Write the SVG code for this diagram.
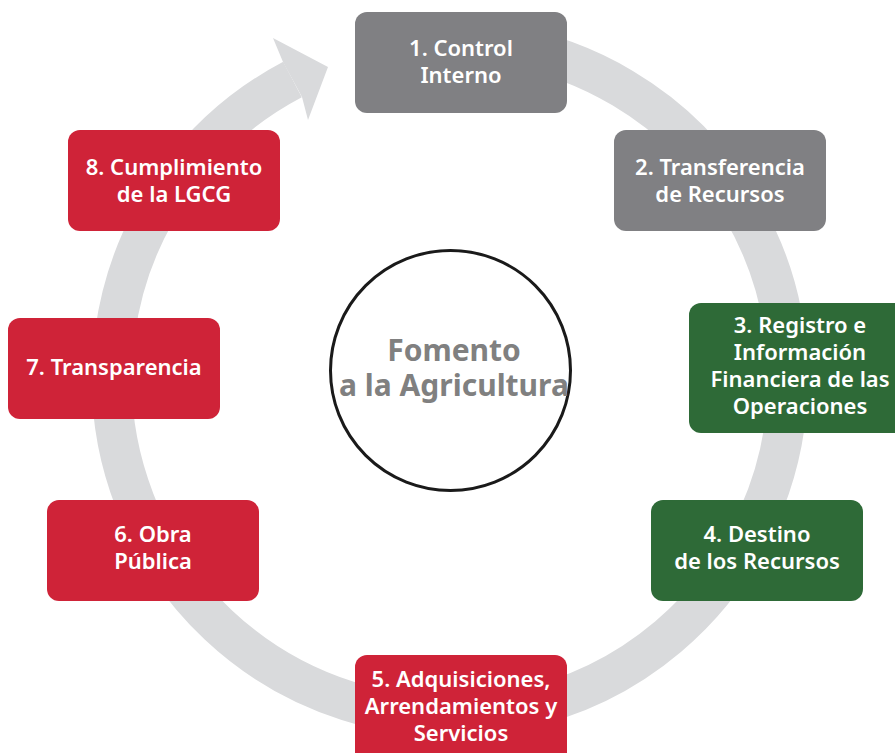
<svg xmlns="http://www.w3.org/2000/svg" width="895" height="753" viewBox="0 0 895 753">
<style>
.box text{fill:#ffffff;font-family:"Noto Sans","Open Sans",sans-serif;font-size:22px;font-weight:600;text-anchor:middle}
.grey rect{fill:#808083}
.red rect{fill:#cf2338}
.green rect{fill:#2e6a37}
.ctr{fill:#808080;font-family:"Noto Sans","Open Sans",sans-serif;font-size:30px;font-weight:700;text-anchor:middle}
</style>
<rect width="895" height="753" fill="#ffffff"/>
<g id="connectors">
<path d="M 480 42 A 338 338 0 1 1 292.5 79.5" fill="none" stroke="#d9dadc" stroke-width="40"/>
<polygon points="283,62 273,38 328,67 308,120 302,97" fill="#d9dadc"/>
</g>
<g id="center">
<circle cx="450.5" cy="370.5" r="120" fill="#ffffff" stroke="#1a1a1a" stroke-width="3"/>
<text class="ctr" x="454" y="361">Fomento</text>
<text class="ctr" x="454" y="396">a la Agricultura</text>
</g>
<g id="n1" class="box grey"><rect x="355" y="12" width="212" height="101" rx="12"/><text x="461" y="56">1. Control</text><text x="461" y="83">Interno</text></g>
<g id="n2" class="box grey"><rect x="614" y="130" width="212" height="101" rx="12"/><text x="720" y="175">2. Transferencia</text><text x="720" y="202">de Recursos</text></g>
<g id="n3" class="box green"><rect x="689" y="303" width="220" height="130" rx="12"/><text x="800" y="333">3. Registro e</text><text x="800" y="360">Información</text><text x="800" y="387">Financiera de las</text><text x="800" y="414">Operaciones</text></g>
<g id="n4" class="box green"><rect x="651" y="500" width="212" height="101" rx="12"/><text x="757" y="542">4. Destino</text><text x="757" y="569">de los Recursos</text></g>
<g id="n5" class="box red"><rect x="355" y="655" width="212" height="110" rx="12"/><text x="461" y="687">5. Adquisiciones,</text><text x="461" y="714">Arrendamientos y</text><text x="461" y="741">Servicios</text></g>
<g id="n6" class="box red"><rect x="47" y="500" width="212" height="101" rx="12"/><text x="153" y="542">6. Obra</text><text x="153" y="569">Pública</text></g>
<g id="n7" class="box red"><rect x="8" y="318" width="212" height="101" rx="12"/><text x="114" y="375">7. Transparencia</text></g>
<g id="n8" class="box red"><rect x="68" y="130" width="212" height="101" rx="12"/><text x="174" y="175">8. Cumplimiento</text><text x="174" y="202">de la LGCG</text></g>
</svg>
